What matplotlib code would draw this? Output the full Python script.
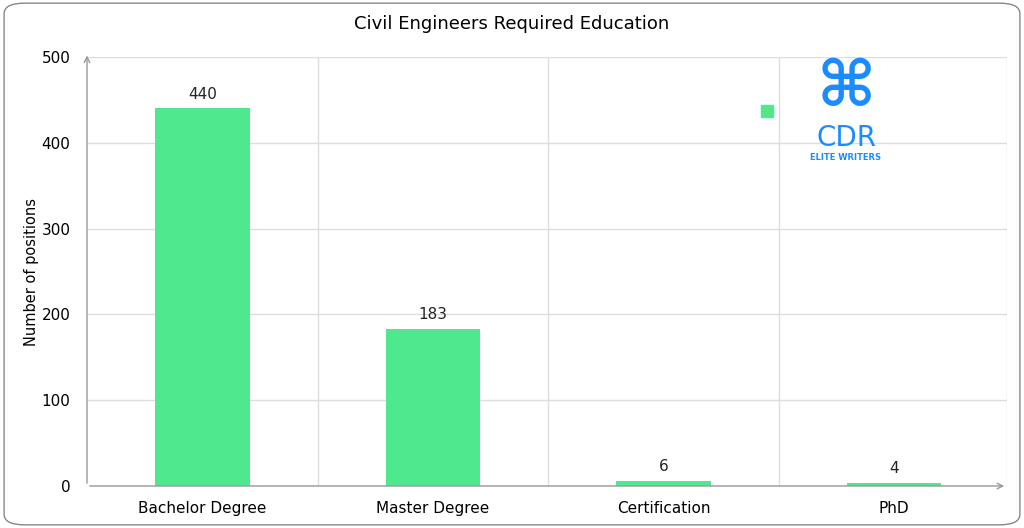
import matplotlib
matplotlib.use("Agg")
import matplotlib.pyplot as plt
from matplotlib.patches import FancyBboxPatch

categories = ["Bachelor Degree", "Master Degree", "Certification", "PhD"]
values = [440, 183, 6, 4]
yticks = [0, 100, 200, 300, 400, 500]

green = "#50E88E"
blue = "#1A8CFF"
fig = plt.figure(figsize=(10.24, 5.28), dpi=100)
fig.patches.append(FancyBboxPatch((0.004, 0.006), 0.992, 0.988, boxstyle="round,pad=0,rounding_size=0.02",
                                  transform=fig.transFigure, fc="white", ec="#888888", lw=1, zorder=-10))
ax = fig.add_axes([87/1024, 1-486/528, 920/1024, (486-57)/528])
ax.set_zorder(5)
ax.set_facecolor("none")
x = range(len(categories))
ax.bar(x, values, width=0.41, color=green, zorder=3)
for i, v in enumerate(values):
    ax.text(i, v + 8, str(v), ha="center", va="bottom", fontsize=11, color="#222222")
ax.set_xlim(-0.5, 3.49)
ax.set_ylim(0, 500)
ax.set_yticks(yticks)
ax.set_xticks(list(x))
ax.set_xticklabels(categories, fontsize=11)
ax.tick_params(axis="x", length=0, labelsize=11, pad=11)
ax.tick_params(axis="y", length=0, labelsize=11, pad=16)
for b in [0.5, 1.5, 2.5, 3.49]:
    ax.axvline(b, color="#dddddd", lw=1, zorder=0)
ax.grid(axis="y", color="#dddddd", lw=1, zorder=0)
for s in ax.spines.values():
    s.set_visible(False)
ax.annotate("", xy=(0, 1.01), xytext=(0, 0), xycoords="axes fraction",
            arrowprops=dict(arrowstyle="->", color="#999999", lw=1))
ax.annotate("", xy=(1.0, 0), xytext=(0, 0), xycoords="axes fraction",
            arrowprops=dict(arrowstyle="->", color="#999999", lw=1))
ax.set_ylabel("Number of positions", fontsize=10.5, labelpad=2)
fig.text(0.5, 0.955, "Civil Engineers Required Education", ha="center", va="center", fontsize=13)
ax.plot([2.45], [437], marker="s", color=green, ms=9, ls="none", zorder=4)
fig.text(846/1024, 1-88/528, "\u2318", ha="center", va="center", fontsize=46, color=blue, fontweight="bold", family="DejaVu Sans", zorder=6)
fig.text(846/1024, 1-138/528, "CDR", ha="center", va="center", fontsize=20, color=blue, family="DejaVu Sans", zorder=6)
fig.text(846/1024, 1-157/528, "ELITE WRITERS", ha="center", va="center", fontsize=6, color=blue, fontweight="bold", zorder=6)
ax.tick_params(axis="y", pad=12)
fig.savefig("out.png", dpi=100)
